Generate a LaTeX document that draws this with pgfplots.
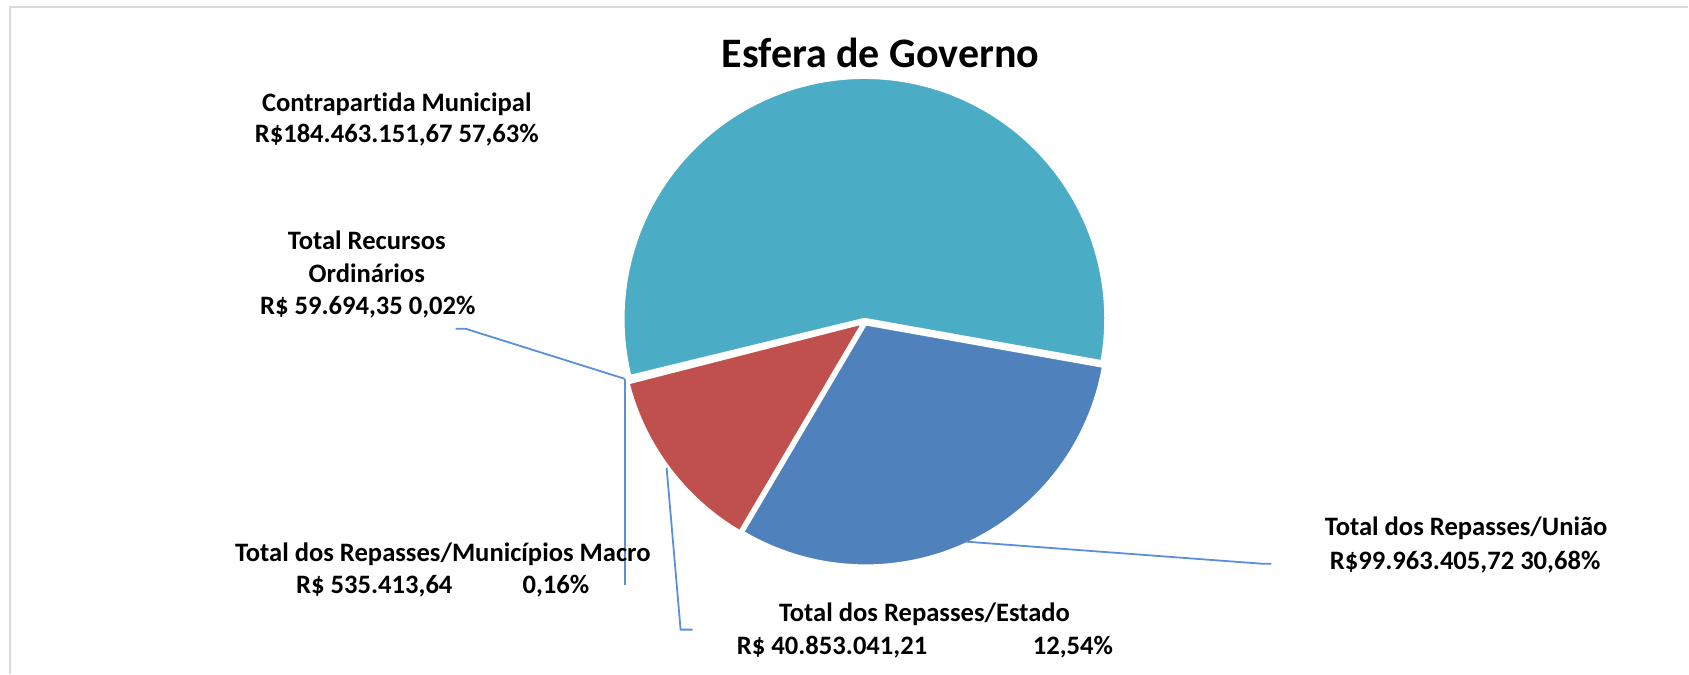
\documentclass[border=0pt]{standalone}
\usepackage{pgfplots}
\usepackage{pgfplotstable}
\pgfplotsset{compat=1.18}
\usepackage{fontspec}
\setmainfont{Carlito}[Ligatures={NoCommon}]
\definecolor{cTeal}{HTML}{4BACC6}
\definecolor{cBlue}{HTML}{4F81BD}
\definecolor{cRed}{HTML}{C0504D}
\definecolor{cGreen}{HTML}{9BBB59}
\definecolor{cPurple}{HTML}{8064A2}
\definecolor{cLead}{RGB}{91,143,215}
\definecolor{cFrame}{HTML}{D9D9D9}
\tikzset{
  lab/.style={font=\bfseries\fontsize{13.3}{16}\selectfont, inner sep=0pt},
  lead/.style={cLead, line width=0.9pt},
  sec/.style={draw=white, line width=1pt}}
\pgfplotstableread{
name value
Uniao 99.96340572
Estado 40.85304121
Macro 0.53541364
Ordinarios 0.05969435
Contrapartida 184.46315167
}\piedata
\begin{document}
\begin{tikzpicture}
\pgfplotstablegetelem{0}{value}\of\piedata \let\vA\pgfplotsretval
\pgfplotstablegetelem{1}{value}\of\piedata \let\vB\pgfplotsretval
\pgfplotstablegetelem{2}{value}\of\piedata \let\vC\pgfplotsretval
\pgfplotstablegetelem{3}{value}\of\piedata \let\vD\pgfplotsretval
\pgfplotstablegetelem{4}{value}\of\piedata \let\vE\pgfplotsretval
\pgfmathsetmacro\tot{\vA+\vB+\vC+\vD+\vE}
\pgfmathsetmacro\aZ{-10.1}
\pgfmathsetmacro\aA{\aZ-360*(\vA/\tot)}
\pgfmathsetmacro\aB{\aA-360*(\vB/\tot)}
\pgfmathsetmacro\aC{\aB-360*(\vC/\tot)}
\pgfmathsetmacro\aD{\aC-360*(\vD/\tot)}
\pgfmathsetmacro\aE{\aZ-360}
% explosion offsets
\def\pcx{865}\def\pcy{352}\def\R{241}\def\ex{3}
\pgfmathsetmacro\cxA{\pcx+\ex*cos((\aZ+\aA)/2)}\pgfmathsetmacro\cyA{\pcy+\ex*sin((\aZ+\aA)/2)}
\pgfmathsetmacro\cxB{\pcx+\ex*cos((\aA+\aB)/2)}\pgfmathsetmacro\cyB{\pcy+\ex*sin((\aA+\aB)/2)}
\pgfmathsetmacro\cxC{\pcx+\ex*cos((\aB+\aC)/2)}\pgfmathsetmacro\cyC{\pcy+\ex*sin((\aB+\aC)/2)}
\pgfmathsetmacro\cxD{\pcx+\ex*cos((\aC+\aD)/2)}\pgfmathsetmacro\cyD{\pcy+\ex*sin((\aC+\aD)/2)}
\pgfmathsetmacro\cxE{\pcx+\ex*cos((\aD+\aE)/2)}\pgfmathsetmacro\cyE{\pcy+\ex*sin((\aD+\aE)/2)}
\begin{axis}[x=0.5pt, y=0.5pt, xmin=0, xmax=1689, ymin=0, ymax=674,
  hide axis, clip=false]
\path (axis cs:0,0) rectangle (axis cs:1689,674);
% frame
\addplot[cFrame, line width=1pt, no marks] coordinates {(10,0) (10,667) (1689,667)};
% pie sectors
\addplot[sec, fill=cBlue, samples=120, variable=\t, domain=\aA:\aZ] ({\cxA+\R*cos(\t)},{\cyA+\R*sin(\t)}) -- (axis cs:\cxA,\cyA) -- cycle;
\addplot[sec, fill=cRed, samples=120, variable=\t, domain=\aB:\aA] ({\cxB+\R*cos(\t)},{\cyB+\R*sin(\t)}) -- (axis cs:\cxB,\cyB) -- cycle;
\addplot[sec, fill=cGreen, samples=120, variable=\t, domain=\aC:\aB] ({\cxC+\R*cos(\t)},{\cyC+\R*sin(\t)}) -- (axis cs:\cxC,\cyC) -- cycle;
\addplot[sec, fill=cPurple, samples=120, variable=\t, domain=\aD:\aC] ({\cxD+\R*cos(\t)},{\cyD+\R*sin(\t)}) -- (axis cs:\cxD,\cyD) -- cycle;
\addplot[sec, fill=cTeal, samples=120, variable=\t, domain=\aE:\aD] ({\cxE+\R*cos(\t)},{\cyE+\R*sin(\t)}) -- (axis cs:\cxE,\cyE) -- cycle;
% leader lines
\addplot[lead, no marks] coordinates {(625,295) (466,345) (456,345)};
\addplot[lead, no marks] coordinates {(625,295) (625,89)};
\addplot[lead, no marks] coordinates {(667,206) (681,44) (693,44)};
\addplot[lead, no marks] coordinates {(967,132) (1262,110) (1272,110)};
% title
\node[anchor=base, inner sep=0pt, font=\bfseries\fontsize{21}{25}\selectfont] at (axis cs:881,606) {Esfera de Governo};
% labels
\node[lab, anchor=base] at (axis cs:397,562) {Contrapartida Municipal};
\node[lab, anchor=base] at (axis cs:397,531) {R\$184.463.151,67 57,63\%};
\node[lab, anchor=base] at (axis cs:367,424) {Total Recursos};
\node[lab, anchor=base] at (axis cs:367,391) {Ordinários};
\node[lab, anchor=base] at (axis cs:368,359) {R\$ 59.694,35 0,02\%};
\node[lab, anchor=base] at (axis cs:443,112) {Total dos Repasses/Municípios Macro};
\node[lab, anchor=base west] at (axis cs:296,80) {R\$ 535.413,64};
\node[lab, anchor=base east] at (axis cs:590,80) {0,16\%};
\node[lab, anchor=base] at (axis cs:925,52) {Total dos Repasses/Estado};
\node[lab, anchor=base west] at (axis cs:737,19) {R\$ 40.853.041,21};
\node[lab, anchor=base east] at (axis cs:1114,19) {12,54\%};
\node[lab, anchor=base] at (axis cs:1467,138) {Total dos Repasses/União};
\node[lab, anchor=base] at (axis cs:1466,104) {R\$99.963.405,72 30,68\%};
\end{axis}
\end{tikzpicture}
\end{document}
